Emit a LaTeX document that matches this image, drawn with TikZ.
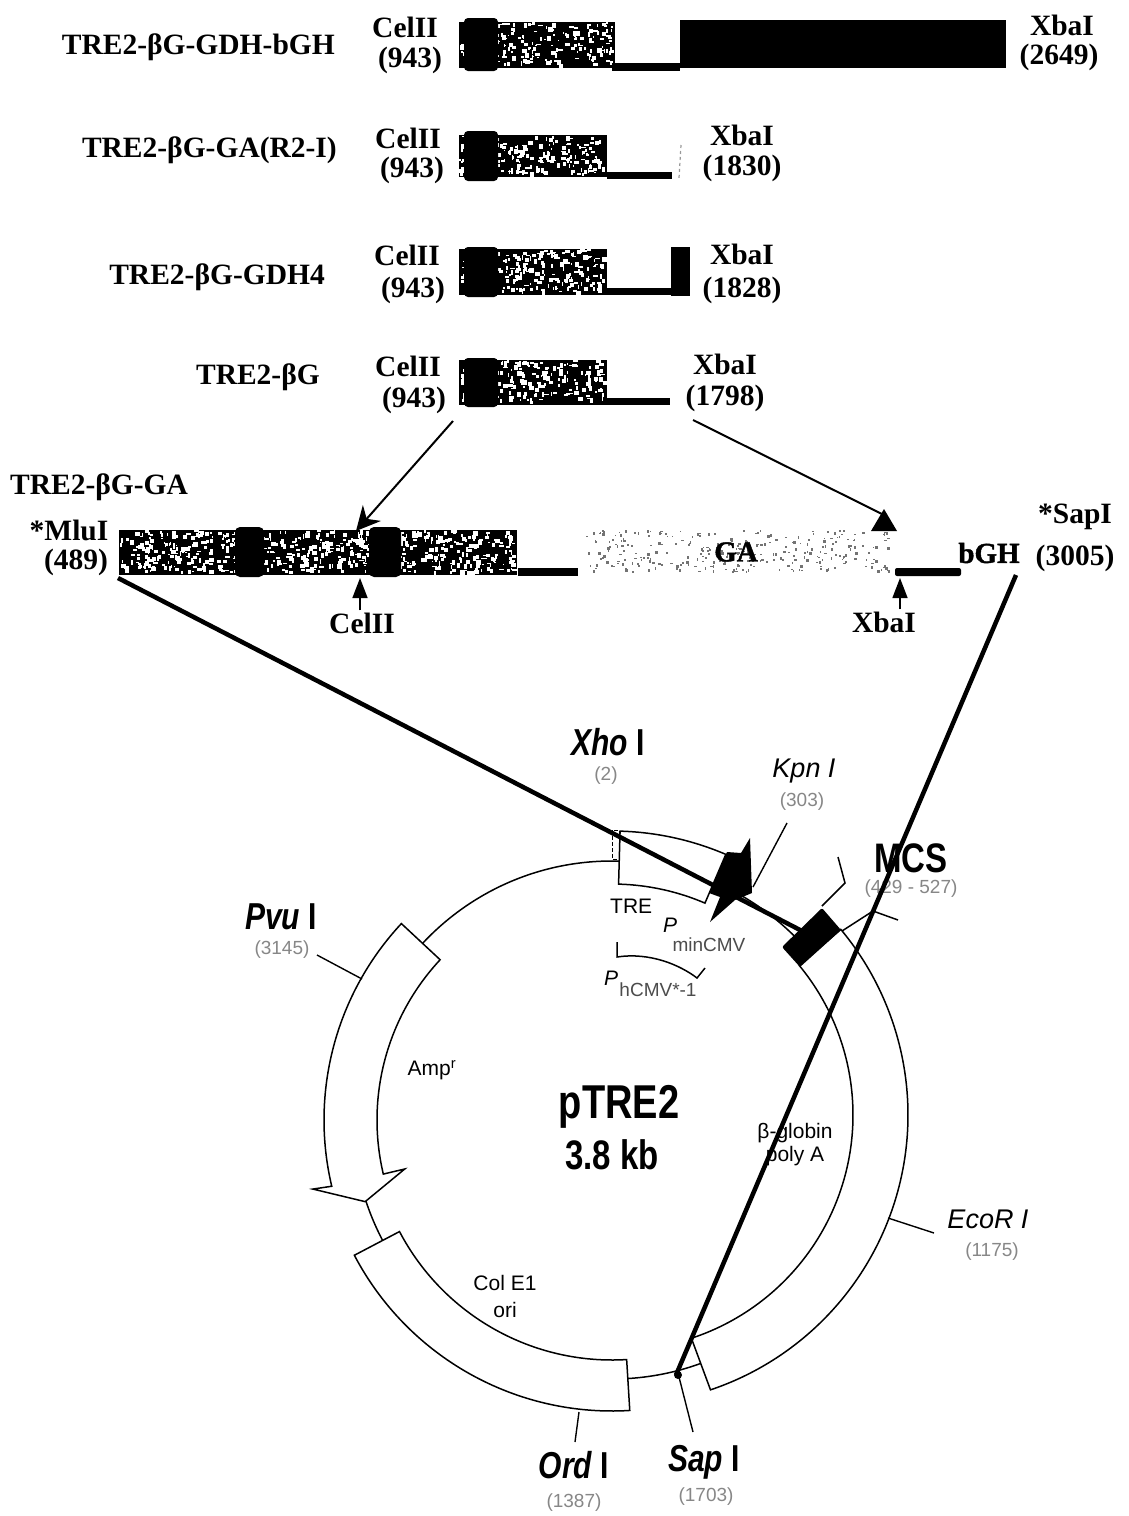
\documentclass[tikz,border=0pt]{standalone}
\usepackage{fontspec}
\setmainfont{Liberation Serif}
\setsansfont{Liberation Sans}
\newfontface\heavyface[FakeBold=1.5]{Liberation Serif Bold}
\usepackage{tikz}
\usetikzlibrary{arrows.meta, positioning, calc}
\definecolor{fadegray}{RGB}{135, 135, 135}

\newcommand{\speckbar}[7]{%
  \foreach \k in {1,...,#5}{%
    \pgfmathsetmacro{\sx}{#1+rnd*(#3-#1-4)}%
    \pgfmathsetmacro{\sy}{#2+rnd*(#4-#2-4)}%
    \pgfmathsetmacro{\sw}{1+rnd*#7}%
    \pgfmathsetmacro{\sh}{1+rnd*#7}%
    \fill[#6] (\sx,-\sy) rectangle ++(\sw,-\sh);%
  }%
}
\newcommand{\tallname}[1]{\scalebox{1}[1.25]{#1}}

\tikzset{
  x=1pt, y=1pt,
  serlabel/.style={font=\fontsize{29.5}{29.5}\selectfont\bfseries, inner sep=0pt},
  heavylabel/.style={font=\fontsize{29}{29}\selectfont\heavyface, inner sep=0pt},
  siteitalic/.style={font=\fontsize{30}{30}\selectfont\sffamily\bfseries, inner sep=0pt},
  sitelight/.style={font=\fontsize{27}{27}\selectfont\sffamily\itshape, inner sep=0pt},
  sitenum/.style={font=\fontsize{19}{19}\selectfont\sffamily, text=fadegray, inner sep=0pt},
  maplabel/.style={font=\fontsize{21}{21}\selectfont\sffamily, inner sep=0pt},
  bigname/.style={font=\fontsize{#1}{#1}\selectfont\sffamily\bfseries, inner sep=0pt},
  fragline/.style={line width=4.5pt},
  ringpart/.style={draw, fill=white, line width=1.5pt, line join=miter},
  leader/.style={line width=1.4pt},
  pointer/.style={line width=1.5pt},
  uparrow/.style={line width=1.5pt, -{Triangle[length=20pt, width=15pt]}}
}

\begin{document}
\begin{tikzpicture}
  \pgfmathsetseed{4242}
  \path[use as bounding box, fill=white] (0,0) rectangle (1128,-1516);

  % construct names
  \node[serlabel, anchor=east] (rowa) at (335,-47) {TRE2-βG-GDH-bGH};
  \node[serlabel, anchor=east] (rowb) at (337,-150) {TRE2-βG-GA(R2-I)};
  \node[serlabel, anchor=east] (rowc) at (325,-277) {TRE2-βG-GDH4};
  \node[serlabel, anchor=east] (rowd) at (320,-377) {TRE2-βG};
  \node[serlabel, anchor=west] (rowe) at (10,-487) {TRE2-βG-GA};

  % site labels
  \node[serlabel] (cela) at (405,-27) {CelII};
  \node[serlabel] (numa) at (410,-60) {(943)};
  \node[serlabel] (xbaa) at (1062,-25) {XbaI};
  \node[serlabel] (enda) at (1059,-57) {(2649)};
  \node[serlabel] (celb) at (408,-138) {CelII};
  \node[serlabel] (numb) at (412,-170) {(943)};
  \node[serlabel] (xbab) at (742,-135) {XbaI};
  \node[serlabel] (endb) at (742,-168) {(1830)};
  \node[serlabel] (celc) at (407,-255) {CelII};
  \node[serlabel] (numc) at (413,-290) {(943)};
  \node[serlabel] (xbac) at (742,-254) {XbaI};
  \node[serlabel] (endc) at (742,-290) {(1828)};
  \node[serlabel] (celd) at (408,-366) {CelII};
  \node[serlabel] (numd) at (414,-400) {(943)};
  \node[serlabel] (xbad) at (725,-364) {XbaI};
  \node[serlabel] (endd) at (725,-398) {(1798)};
  \node[serlabel] (mlu) at (69,-530) {*MluI};
  \node[serlabel] (mlunum) at (76,-562) {(489)};
  \node[serlabel] (sap) at (1075,-517) {*SapI};
  \node[serlabel] (sapnum) at (1075,-558) {(3005)};
  \node[serlabel] (celmain) at (362,-623) {CelII};
  \node[serlabel] (xbamain) at (884,-622) {XbaI};

  % construct bars
  \foreach \ya/\yb/\hi/\lo/\xe in {22/68/18/71/615, 135/177/131/181/607, 249/295/247/297/607, 360/405/358/407/607}{
    \fill (459,-\ya) rectangle (\xe,-\yb);
    \speckbar{459}{\ya}{\xe}{\yb}{210}{white}{4}
    \fill[rounded corners=4pt] (464,-\hi) rectangle (498,-\lo);
  }
  \fill (612,-63) rectangle (680,-71);
  \fill (680,-20) rectangle (1006,-68);
  \fill (607,-172) rectangle (672,-179);
  \draw[black!40, dashed, line width=1.2pt] (681,-145) -- (679,-178);
  \fill (607,-288) rectangle (672,-295);
  \fill (671,-247) rectangle (690,-296);
  \fill (607,-398) rectangle (670,-405);

  % main fragment
  \fill (119,-530) rectangle (517,-575);
  \speckbar{119}{530}{517}{575}{620}{white}{4}
  \fill[rounded corners=5pt] (235,-527) rectangle (264,-577);
  \fill[rounded corners=5pt] (369,-527) rectangle (401,-577);
  \fill (518,-568) rectangle (578,-576);
  \speckbar{586}{530}{893}{575}{300}{black!55}{2}
  \fill[rounded corners=2pt] (895,-568) rectangle (961,-576);
  \node[heavylabel] (ga) at (736,-552) {GA};
  \node[heavylabel] (bgh) at (989,-553) {bGH};

  % insert arrows
  \coordinate (fromcel) at (453,-421);
  \coordinate (tocel) at (356,-531);
  \coordinate (fromxba) at (693,-420);
  \coordinate (toxba) at (884,-515);
  \draw[line width=2pt, -{Stealth[length=24pt, width=24pt]}] (fromcel) -- (tocel);
  \draw[line width=2pt] (fromxba) -- (toxba);
  \fill (884,-509) -- (871,-531) -- (897,-531) -- cycle;
  \draw[uparrow] (celmain.north) ++(-2,2) -- (360,-578);
  \draw[uparrow] (xbamain.north) ++(16,2) -- (900,-578);

  % plasmid ring
  \begin{scope}[shift={(612,-1120)}]
    \draw[line width=1.5pt] (0,0) circle[radius=259pt];
    \path[ringpart] (137:288) arc[start angle=137, end angle=193.3, radius=288pt]
      -- (193:307) -- (198.3:260) -- (193.3:213) -- (193.3:235)
      arc[start angle=193.3, end angle=137, radius=235pt] -- cycle;
    \path[ringpart] (207.7:291) arc[start angle=207.7, end angle=273.5, radius=291pt]
      -- (273.5:240) arc[start angle=273.5, end angle=207.7, radius=240pt] -- cycle;
    \path[ringpart] (88.4:289) arc[start angle=88.4, end angle=66.8, radius=289pt]
      -- (66.8:236) arc[start angle=66.8, end angle=88.4, radius=236pt] -- cycle;
  \end{scope}
  \begin{scope}[shift={(618,-1115)}]
    \path[ringpart] (288.6:290) arc[start angle=288.6, end angle=399.8, radius=290pt]
      -- (39.5:235) arc[start angle=399.5, end angle=288.2, radius=235pt] -- cycle;
  \end{scope}
  \draw[line width=1pt, dash pattern=on 4pt off 2pt] (612,-830) rectangle (619,-859);

  % solid marks
  \fill (727,-852) -- (741,-853) -- (750,-838) -- (752,-893) -- (735,-900)
    -- (710,-922) -- (720,-897) -- (709,-893) -- cycle;
  \fill[rounded corners=2pt] (822,-908) -- (841,-930) -- (800,-967) -- (782,-947) -- cycle;

  % vector names
  \node[bigname=38] (vecname) at (619,-1107) {\tallname{pTRE2}};
  \node[bigname=33] (vecsize) at (612,-1155) {\tallname{3.8 kb}};
  \node[bigname=33] (mcs) at (911,-858) {\tallname{MCS}};
  \node[sitenum] (mcsnum) at (911,-889) {(429 - 527)};

  % sites on the ring
  \node[siteitalic] (xho) at (608,-742) {\tallname{\textit{Xho} I}};
  \node[sitenum] (xhonum) at (606,-776) {(2)};
  \node[sitelight] (kpn) at (804,-771) {Kpn I};
  \node[sitenum] (kpnnum) at (802,-802) {(303)};
  \node[siteitalic] (pvu) at (281,-917) {\tallname{\textit{Pvu} I}};
  \node[sitenum] (pvunum) at (282,-950) {(3145)};
  \node[sitelight] (eco) at (988,-1219) {EcoR I};
  \node[sitenum] (econum) at (992,-1252) {(1175)};
  \node[siteitalic] (ord) at (574,-1465) {\tallname{\textit{Ord} I}};
  \node[sitenum] (ordnum) at (574,-1503) {(1387)};
  \node[siteitalic] (sapsite) at (704,-1462) {\tallname{\textit{Sap} I}};
  \node[sitenum] (sapsitenum) at (706,-1497) {(1703)};

  % feature names
  \node[maplabel, anchor=west] (tre) at (610,-906) {TRE};
  \node[maplabel, font=\fontsize{21}{21}\selectfont\sffamily\itshape] (pmin) at (670,-925) {P};
  \node[sitenum, text=black!70] (pminsub) at (709,-945) {minCMV};
  \node[maplabel, font=\fontsize{21}{21}\selectfont\sffamily\itshape] (phcmv) at (611,-978) {P};
  \node[sitenum, text=black!70] (phsub) at (658,-990) {hCMV*-1};
  \node[maplabel] (amp) at (432,-1070) {Amp\textsuperscript{r}};
  \node[maplabel, align=center] (glob) at (795,-1145) {β-globin\\[2pt]poly A};
  \node[maplabel, align=center] (colori) at (505,-1296) {Col E1\\[6pt]ori};

  % tick leaders
  \draw[leader] (317,-955) -- (362,-979);
  \draw[leader] (787,-823) -- (753,-887);
  \draw[leader] (888,-1218) -- (934,-1233);
  \draw[leader] (579,-1412) -- (575,-1442);
  \draw[leader] (679,-1377) -- (693,-1432);
  \draw[pointer] (822,-906) -- (845,-883) -- (838,-857);
  \draw[pointer] (842,-931) -- (873,-911) -- (898,-920);
  \draw[pointer] (617,-942) -- (617,-957) .. controls (650,-952) and (680,-965) .. (697,-978) -- (705,-968);

  % lines from the fragment into the vector
  \coordinate (mlufoot) at (118,-578);
  \coordinate (mcsfoot) at (804,-932);
  \coordinate (sapfoot) at (1016,-575);
  \coordinate (sapcut) at (676,-1375);
  \draw[fragline] (mlufoot) -- (mcsfoot);
  \draw[fragline] (sapfoot) -- (sapcut);
  \fill (678,-1375) circle[radius=4pt];
\end{tikzpicture}
\end{document}
